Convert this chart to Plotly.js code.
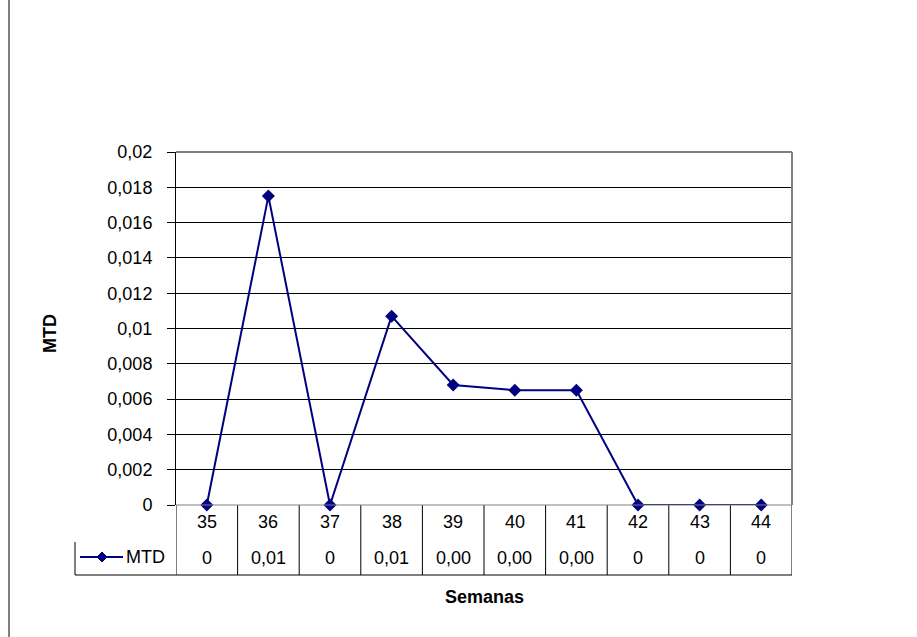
<!DOCTYPE html>
<html>
<head>
<meta charset="utf-8">
<script src="https://cdn.plot.ly/plotly-3.0.1.min.js"></script>
<style>html,body{margin:0;padding:0;background:#fff;}#chart{width:917px;height:637px;}</style>
</head>
<body>
<div id="chart"></div>
<script>
// Data
const weeks = [35, 36, 37, 38, 39, 40, 41, 42, 43, 44];
const mtd = [0, 0.0175, 0, 0.0107, 0.0068, 0.0065, 0.0065, 0, 0, 0];
const tableLabels = ["0", "0,01", "0", "0,01", "0,00", "0,00", "0,00", "0", "0", "0"];
const yTickVals = [0, 0.002, 0.004, 0.006, 0.008, 0.01, 0.012, 0.014, 0.016, 0.018, 0.02];
const yTickText = ["0", "0,002", "0,004", "0,006", "0,008", "0,01", "0,012", "0,014", "0,016", "0,018", "0,02"];
const seriesName = "MTD";
const xTitle = "Semanas";
const yTitle = "MTD";

// Layout geometry (pixels)
const W = 917, H = 637;
const L = 176, R = 792, T = 152, B = 505;
const pw = R - L, ph = B - T;
const px = x => (x - L) / pw;
const py = y => (B - y) / ph;

const FONT = "Liberation Sans, Arial, sans-serif";
const navy = "#000080";

const shapes = [];
const lineBlack = {color: "#000", width: 1};
// table vertical lines at category boundaries
for (let k = 0; k <= weeks.length; k++) {
  shapes.push({type: "line", xref: "x", yref: "paper",
    x0: weeks[0] - 0.5 + k, x1: weeks[0] - 0.5 + k, y0: py(B), y1: py(575), line: lineBlack});
}
// table bottom line
shapes.push({type: "line", xref: "paper", yref: "paper", x0: px(75), x1: px(R), y0: py(575), y1: py(575), line: lineBlack});
// legend cell left line
shapes.push({type: "line", xref: "paper", yref: "paper", x0: px(75), x1: px(75), y0: py(542), y1: py(575), line: lineBlack});
// plot area border (gray)
shapes.push({type: "line", xref: "paper", yref: "paper", x0: 0, x1: 1, y0: 1, y1: 1, line: {color: "#808080", width: 2}});
shapes.push({type: "line", xref: "paper", yref: "paper", x0: 1, x1: 1, y0: 0, y1: 1, line: {color: "#808080", width: 2}});
shapes.push({type: "line", xref: "paper", yref: "paper", x0: 0, x1: 1, y0: 0, y1: 0, line: {color: "#808080", width: 1}});
// outer chart area left border
shapes.push({type: "line", xref: "paper", yref: "paper", x0: px(9), x1: px(9), y0: py(0), y1: py(H), line: {color: "#000", width: 1}});
// legend key inside the data table (line + diamond)
const lgY = 557, lgX0 = 80, lgX1 = 123, lgXc = 102, d = 5;
shapes.push({type: "line", xref: "paper", yref: "paper", x0: px(lgX0), x1: px(lgX1), y0: py(lgY), y1: py(lgY), line: {color: navy, width: 2}});
shapes.push({type: "path", xref: "paper", yref: "paper",
  path: `M${px(lgXc - d)},${py(lgY)} L${px(lgXc)},${py(lgY - d)} L${px(lgXc + d)},${py(lgY)} L${px(lgXc)},${py(lgY + d)} Z`,
  fillcolor: navy, line: {color: navy, width: 1}});

const annotations = [];
weeks.forEach((w, i) => {
  annotations.push({xref: "x", yref: "paper", x: w, y: 0, yshift: -17, yanchor: "middle",
    text: String(w), showarrow: false, font: {family: FONT, size: 18, color: "#000"}});
  annotations.push({xref: "x", yref: "paper", x: w, y: 0, yshift: -53, yanchor: "middle",
    text: tableLabels[i], showarrow: false, font: {family: FONT, size: 18, color: "#000"}});
});
annotations.push({xref: "paper", yref: "paper", x: px(124), y: py(lgY), xanchor: "left", yanchor: "middle",
  text: seriesName, showarrow: false, font: {family: FONT, size: 18, color: "#000"}});
annotations.push({xref: "paper", yref: "paper", x: 0.5, y: 0, yshift: -92, yanchor: "middle",
  text: "<b>" + xTitle + "</b>", showarrow: false, font: {family: FONT, size: 18, color: "#000"}});
annotations.push({xref: "paper", yref: "paper", x: px(50), y: py(333), textangle: -90,
  xanchor: "center", yanchor: "middle",
  text: "<b>" + yTitle + "</b>", showarrow: false, font: {family: FONT, size: 18, color: "#000"}});

const trace = {
  x: weeks, y: mtd, type: "scatter", mode: "lines+markers", name: seriesName,
  line: {color: navy, width: 2},
  marker: {symbol: "diamond", size: 10, color: navy},
  cliponaxis: false
};

const layout = {
  width: W, height: H,
  margin: {l: L, r: W - R, t: T, b: H - B, pad: 0},
  paper_bgcolor: "#fff", plot_bgcolor: "#fff",
  font: {family: FONT, size: 18, color: "#000"},
  showlegend: false,
  xaxis: {range: [weeks[0] - 0.5, weeks[weeks.length - 1] + 0.5], showticklabels: false,
    showgrid: false, zeroline: false, ticks: "", showline: false, fixedrange: true},
  yaxis: {range: [0, 0.02], tickvals: yTickVals, ticktext: yTickText,
    showgrid: true, gridcolor: "#000", gridwidth: 1, zeroline: false,
    showline: true, linecolor: "#000", linewidth: 1,
    ticks: "outside", ticklen: 8, tickcolor: "#000", ticklabelstandoff: 11,
    tickfont: {family: FONT, size: 18, color: "#000"}, fixedrange: true},
  shapes: shapes,
  annotations: annotations
};

Plotly.newPlot("chart", [trace], layout, {displayModeBar: false, staticPlot: true});
</script>
</body>
</html>
